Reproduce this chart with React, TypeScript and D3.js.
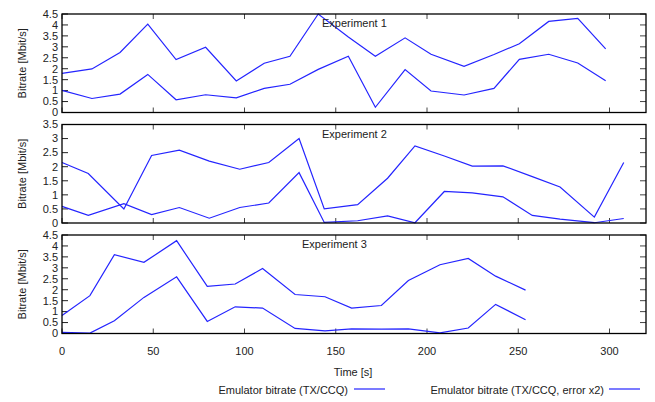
import React from 'react';
import * as d3 from 'd3';

// time stamps (s) and bitrates (Mbit/s) per experiment
const time1 = [0, 16.4, 31.8, 47, 62.5, 78.7, 95.5, 110.8, 124.9, 140.4, 156.9, 171.7, 188, 202.2, 220.3, 236.7, 250.6, 266.7, 282.6, 297.9];
const txccq1 = [1.79, 1.99, 2.74, 4.04, 2.42, 2.98, 1.44, 2.25, 2.57, 4.5, 3.45, 2.57, 3.41, 2.66, 2.11, 2.65, 3.14, 4.16, 4.3, 2.91];
const err1 = [1.01, 0.64, 0.84, 1.74, 0.58, 0.81, 0.67, 1.1, 1.29, 1.97, 2.57, 0.24, 1.96, 0.98, 0.8, 1.1, 2.43, 2.66, 2.26, 1.45];

const time2 = [0, 14.4, 33.9, 49.1, 64.3, 80.7, 97.4, 113.3, 129.9, 143.7, 162, 178.4, 193.4, 209.5, 224.8, 241.6, 257.7, 272.9, 291.7, 307.8];
const txccq2 = [2.15, 1.76, 0.5, 2.4, 2.59, 2.2, 1.91, 2.15, 3.0, 0.5, 0.65, 1.59, 2.74, 2.38, 2.02, 2.03, 1.65, 1.28, 0.21, 2.15];
const err2 = [0.59, 0.27, 0.69, 0.3, 0.55, 0.17, 0.55, 0.71, 1.79, 0.02, 0.08, 0.25, 0.01, 1.12, 1.07, 0.93, 0.27, 0.14, 0.01, 0.16];

const time3 = [0, 15.3, 28.7, 44.9, 62.8, 79.6, 94.9, 109.9, 127.7, 144.1, 158.7, 175, 189.8, 207.1, 222.6, 237.6, 254];
const txccq3 = [0.82, 1.73, 3.6, 3.25, 4.24, 2.15, 2.26, 2.97, 1.78, 1.68, 1.16, 1.28, 2.42, 3.14, 3.43, 2.62, 1.98];
const err3 = [0.05, 0.02, 0.58, 1.65, 2.59, 0.55, 1.22, 1.16, 0.23, 0.12, 0.21, 0.2, 0.21, 0.03, 0.25, 1.33, 0.63];

const xTicks = [0, 50, 100, 150, 200, 250, 300];
const legendLabels = ['Emulator bitrate (TX/CCQ)', 'Emulator bitrate (TX/CCQ, error x2)'];

const panels = [
  { title: 'Experiment 1', time: time1, a: txccq1, b: err1, yMax: 4.5, top: 14, titleX: 322 },
  { title: 'Experiment 2', time: time2, a: txccq2, b: err2, yMax: 3.5, top: 124.5, titleX: 322 },
  { title: 'Experiment 3', time: time3, a: txccq3, b: err3, yMax: 4.5, top: 235, titleX: 302 },
];

const W = 655, H = 402;
const left = 62, right = 646, panelH = 98.5;
const font = 'Liberation Sans, Arial, sans-serif';
const blue = '#2424ff';

const x = d3.scaleLinear().domain([0, 320]).range([left, right]);

const Panel = ({ p }) => {
  const y = d3.scaleLinear().domain([0, p.yMax]).range([p.top + panelH, p.top]);
  const yTicks = d3.range(0, p.yMax + 0.01, 0.5);
  const line = d3.line<number>().x((d, i) => x(p.time[i])).y(d => y(d));
  const bottom = p.top + panelH;
  return (
    <g>
      {yTicks.map(t => (
        <g key={t}>
          <line x1={left} x2={left + 6} y1={y(t)} y2={y(t)} stroke="#222" />
          <line x1={right - 6} x2={right} y1={y(t)} y2={y(t)} stroke="#444" />
          <text x={left - 4} y={y(t)} dy="0.35em" textAnchor="end" fontSize={11} fill="#222">{d3.format('')(t)}</text>
        </g>
      ))}
      {xTicks.map(t => (
        <g key={t}>
          <line x1={x(t)} x2={x(t)} y1={bottom} y2={bottom - 5} stroke="#444" />
          <line x1={x(t)} x2={x(t)} y1={p.top} y2={p.top + 5} stroke="#444" />
        </g>
      ))}
      <path d={line(p.a) || ''} fill="none" stroke={blue} strokeWidth={1.2} />
      <path d={line(p.b) || ''} fill="none" stroke={blue} strokeWidth={1.2} />
      <rect x={left} y={p.top} width={right - left} height={panelH} fill="none" stroke="#000" strokeWidth={1.3} />
      <text x={p.titleX} y={p.top + 13} fontSize={11} fill="#222">{p.title}</text>
      <text transform={`translate(22,${p.top + panelH / 2}) rotate(-90)`} textAnchor="middle" dy="0.35em" fontSize={11} fill="#222">Bitrate [Mbit/s]</text>
    </g>
  );
};

export default function App() {
  const lastBottom = panels[2].top + panelH;
  return (
    <svg width={W} height={H} style={{ position: 'absolute', left: 0, top: 0, background: '#fff' }} fontFamily={font}>
      {panels.map(p => <Panel key={p.title} p={p} />)}
      {xTicks.map(t => (
        <text key={t} x={x(t)} y={lastBottom + 18} dy="0.35em" textAnchor="middle" fontSize={11} fill="#222">{t}</text>
      ))}
      <text x={353} y={372} dy="0.35em" textAnchor="middle" fontSize={11} fill="#222">Time [s]</text>
      <text x={348} y={390} dy="0.35em" textAnchor="end" fontSize={11} fill="#222">{legendLabels[0]}</text>
      <line x1={354} x2={385} y1={389} y2={389} stroke={blue} strokeWidth={1.2} />
      <text x={604} y={390} dy="0.35em" textAnchor="end" fontSize={11} fill="#222">{legendLabels[1]}</text>
      <line x1={609} x2={640} y1={389} y2={389} stroke={blue} strokeWidth={1.2} />
    </svg>
  );
}
